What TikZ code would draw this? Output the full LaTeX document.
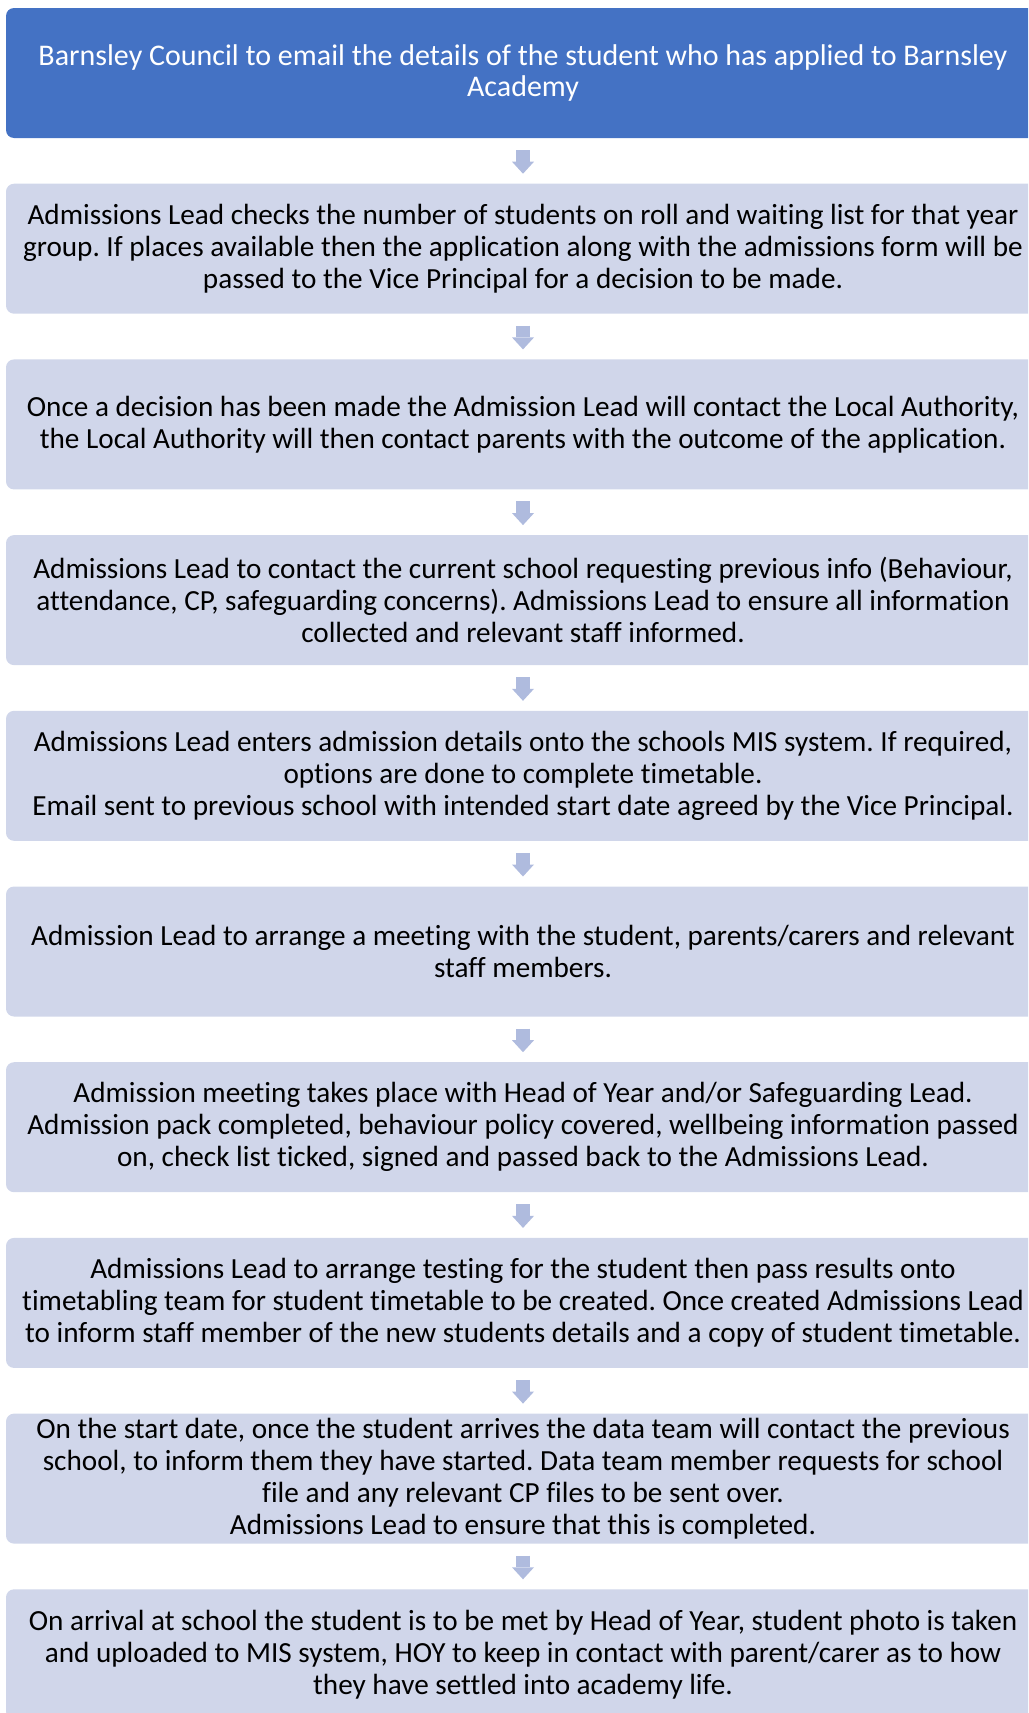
\documentclass[tikz,border=0pt]{standalone}
\usepackage{fontspec}
\setmainfont[Ligatures=NoCommon]{Carlito}
\usetikzlibrary{arrows.meta}
\frenchspacing

\definecolor{blue1}{RGB}{68,114,196}
\definecolor{lavender1}{RGB}{208,214,234}
\definecolor{arrowblue1}{RGB}{175,187,222}
\tikzstyle{block} = [fill=lavender1, rectangle, align=center, minimum width=1034pt, inner xsep=0pt, inner ysep=0pt, outer sep=0pt, minimum height=130pt, rounded corners=8pt, font=\fontsize{29.2}{32}\selectfont]
\tikzstyle{topblock} = [block, fill=blue1, text=white, font=\fontsize{30}{31}\selectfont]
\tikzstyle{arrow} = [draw, -{Triangle[width=22pt, length=12pt, line width=0pt]}, line width=14pt, color=arrowblue1, shorten <=12pt, shorten >=10pt]

\begin{document}
\begin{tikzpicture}[node distance=175.7pt, auto]
	\useasboundingbox (0pt,0pt) rectangle (1028pt,-1713pt);
	\clip (0pt,0pt) rectangle (1028pt,-1713pt);

	\node [topblock] at (523pt,-73pt) (council_email) {Barnsley Council to email the details of the student who has applied to Barnsley\\Academy};
	\node [block, below of=council_email] (check_roll) {Admissions Lead checks the number of students on roll and waiting list for that year\\group. If places available then the application along with the admissions form will be\\passed to the Vice Principal for a decision to be made.};
	\node [block, below of=check_roll] (decision) {Once a decision has been made the Admission Lead will contact the Local Authority,\\the Local Authority will then contact parents with the outcome of the application.};
	\node [block, below of=decision] (prev_school) {Admissions Lead to contact the current school requesting previous info (Behaviour,\\attendance, CP, safeguarding concerns). Admissions Lead to ensure all information\\collected and relevant staff informed.};
	\node [block, below of=prev_school] (mis_entry) {Admissions Lead enters admission details onto the schools MIS system. If required,\\options are done to complete timetable.\\Email sent to previous school with intended start date agreed by the Vice Principal.};
	\node [block, below of=mis_entry] (arrange_meeting) {Admission Lead to arrange a meeting with the student, parents/carers and relevant\\staff members.};
	\node [block, below of=arrange_meeting] (meeting) {Admission meeting takes place with Head of Year and/or Safeguarding Lead.\\Admission pack completed, behaviour policy covered, wellbeing information passed\\on, check list ticked, signed and passed back to the Admissions Lead.};
	\node [block, below of=meeting] (testing) {Admissions Lead to arrange testing for the student then pass results onto\\timetabling team for student timetable to be created. Once created Admissions Lead\\to inform staff member of the new students details and a copy of student timetable.};
	\node [block, below of=testing] (start_date) {On the start date, once the student arrives the data team will contact the previous\\school, to inform them they have started. Data team member requests for school\\file and any relevant CP files to be sent over.\\Admissions Lead to ensure that this is completed.};
	\node [block, below of=start_date] (arrival) {On arrival at school the student is to be met by Head of Year, student photo is taken\\and uploaded to MIS system, HOY to keep in contact with parent/carer as to how\\they have settled into academy life.};

	% Steps
	\draw [arrow] (council_email.south) to (check_roll.north);
	\draw [arrow] (check_roll.south) to (decision.north);
	\draw [arrow] (decision.south) to (prev_school.north);
	\draw [arrow] (prev_school.south) to (mis_entry.north);
	\draw [arrow] (mis_entry.south) to (arrange_meeting.north);
	\draw [arrow] (arrange_meeting.south) to (meeting.north);
	\draw [arrow] (meeting.south) to (testing.north);
	\draw [arrow] (testing.south) to (start_date.north);
	\draw [arrow] (start_date.south) to (arrival.north);
\end{tikzpicture}
\end{document}
